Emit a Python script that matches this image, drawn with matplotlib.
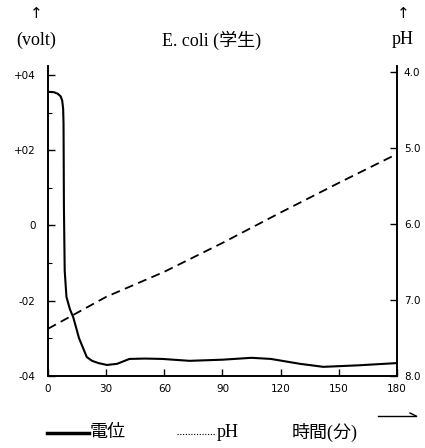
import matplotlib
matplotlib.use("Agg")
import matplotlib.pyplot as plt
from matplotlib.lines import Line2D
from matplotlib.ticker import FixedLocator

plt.rcParams["font.family"] = ["Liberation Serif", "Noto Sans CJK JP", "DejaVu Sans"]

# 電位 (volt) over time
t_volt = [0, 3, 5, 6.5, 7.3, 7.8, 8.0, 8.2, 8.6, 9.5, 11.3, 13, 16, 20, 22.7, 26, 30.4, 35.6, 42,
          50, 59, 73, 90, 105, 115, 130, 142, 160, 180]
volt = [0.355, 0.354, 0.35, 0.343, 0.332, 0.31, 0.27, 0.05, -0.12, -0.19, -0.223, -0.244, -0.3,
        -0.35, -0.36, -0.366, -0.371, -0.368, -0.355, -0.354, -0.355, -0.36, -0.357, -0.352,
        -0.355, -0.368, -0.376, -0.372, -0.366]

# pH over time
t_ph = [0, 30, 60, 90, 120, 150, 180]
ph = [7.38, 6.96, 6.63, 6.25, 5.85, 5.46, 5.08]

xticks = [0, 30, 60, 90, 120, 150, 180]
xtick_labels = ["0", "30", "60", "90", "120", "150", "180"]
vticks = [0.4, 0.2, 0.0, -0.2, -0.4]
vtick_labels = ["+04", "+02", "0", "-02", "-04"]
phticks = [4.0, 5.0, 6.0, 7.0, 8.0]
phtick_labels = ["4.0", "5.0", "6.0", "7.0", "8.0"]

fig = plt.figure(figsize=(4.25, 4.48), dpi=100)
ax = fig.add_axes([0.113, 0.161, 0.821, 0.692])
ax2 = ax.twinx()

ax.plot(t_volt, volt, color="black", lw=1.5)
ax2.plot(t_ph, ph, color="black", lw=1.3, dashes=(5, 3))

ax.set_xlim(0, 180)
ax.set_ylim(-0.4, 0.424)
ax2.set_ylim(8.0, 3.92)

for a in (ax, ax2):
    a.spines["top"].set_visible(False)
    for s in a.spines.values():
        s.set_linewidth(1.2)

tick_font = dict(fontfamily="DejaVu Sans", fontsize=7.5)
ax.set_xticks(xticks, xtick_labels, **tick_font)
ax.set_yticks(vticks, vtick_labels, **tick_font)
ax.yaxis.set_minor_locator(FixedLocator([0.3, 0.1, -0.1, -0.3]))
ax.tick_params(axis="y", direction="in", length=5, width=1, pad=9)
ax.tick_params(axis="x", direction="in", length=5, width=1, pad=6)
ax.tick_params(axis="y", which="minor", direction="in", length=3, width=0.8)
ax2.set_yticks(phticks, phtick_labels, **tick_font)
ax2.tick_params(axis="y", direction="in", length=5, width=1, pad=5)

# header texts
fig.text(36 / 425, 1 - 14 / 448, "↑", ha="center", va="center", fontsize=11, family="DejaVu Sans")
fig.text(36 / 425, 1 - 40 / 448, "(volt)", ha="center", va="center", fontsize=13)
fig.text(212 / 425, 1 - 40 / 448, "E. coli (学生)", ha="center", va="center", fontsize=13)
fig.text(403 / 425, 1 - 14 / 448, "↑", ha="center", va="center", fontsize=11, family="DejaVu Sans")
fig.text(403 / 425, 1 - 40 / 448, "pH", ha="center", va="center", fontsize=13)

# bottom legend row
fig.add_artist(Line2D([47 / 425, 89 / 425], [1 - 433 / 448] * 2, color="black", lw=2.5))
fig.text(90 / 425, 1 - 432 / 448, "電位", ha="left", va="center", fontsize=13)
fig.add_artist(Line2D([177 / 425, 216 / 425], [1 - 434 / 448] * 2, color="black", lw=0.8,
                      linestyle=(0, (1, 1.5))))
fig.text(217 / 425, 1 - 432 / 448, "pH", ha="left", va="center", fontsize=13)
fig.text(292 / 425, 1 - 432 / 448, "時間(分)", ha="left", va="center", fontsize=13)
fig.add_artist(Line2D([378 / 425, 416 / 425], [1 - 416 / 448] * 2, color="black", lw=1))
fig.add_artist(Line2D([410 / 425, 416 / 425], [1 - 413 / 448, 1 - 416 / 448], color="black", lw=1))

fig.savefig("out.png", dpi=100)
